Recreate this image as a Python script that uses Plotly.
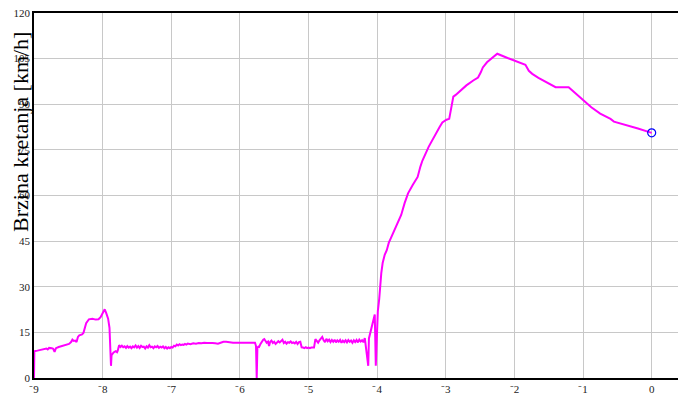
import plotly.graph_objects as go

# --- data -------------------------------------------------------------------
time_s = [
    -9.0, -8.995, -8.95, -8.9, -8.85, -8.82, -8.8, -8.78, -8.74, -8.72, -8.7, -8.68,
    -8.64, -8.6, -8.56, -8.52, -8.49, -8.46, -8.44, -8.42, -8.4, -8.38, -8.36, -8.34,
    -8.3, -8.28, -8.26, -8.24, -8.2, -8.15, -8.1, -8.06, -8.03, -8.0, -7.97, -7.95,
    -7.92, -7.9, -7.885, -7.878, -7.87, -7.84, -7.81, -7.79, -7.78,
    -7.76, -7.74, -7.72, -7.70, -7.68, -7.66, -7.64, -7.62, -7.60, -7.58, -7.56,
    -7.54, -7.52, -7.50, -7.48, -7.46, -7.44, -7.42, -7.40, -7.38, -7.36, -7.34,
    -7.32, -7.30, -7.28, -7.26, -7.24, -7.22, -7.20, -7.18, -7.16, -7.14, -7.12,
    -7.10, -7.08, -7.06, -7.04, -7.02, -7.00, -6.98, -6.96, -6.94, -6.92, -6.90,
    -6.88, -6.86, -6.84, -6.82, -6.80, -6.78, -6.76, -6.72, -6.68, -6.64, -6.60,
    -6.56, -6.52, -6.48, -6.44, -6.40, -6.36, -6.32, -6.28, -6.24, -6.20, -6.16,
    -6.10, -5.78, -5.765, -5.755, -5.745, -5.73,
    -5.72, -5.70, -5.68, -5.66, -5.645, -5.63, -5.61, -5.59, -5.575, -5.56, -5.54,
    -5.52, -5.50, -5.48, -5.46, -5.44, -5.42, -5.40, -5.38, -5.36, -5.34, -5.32,
    -5.30, -5.28, -5.26, -5.24, -5.22, -5.20, -5.18, -5.16, -5.14, -5.12, -5.10,
    -5.08, -5.06, -5.04, -5.02, -5.00, -4.98, -4.96, -4.94, -4.92, -4.90, -4.88,
    -4.86, -4.84, -4.82, -4.80, -4.78, -4.76, -4.74, -4.72, -4.70, -4.68, -4.66,
    -4.64, -4.62, -4.60, -4.58, -4.56, -4.54, -4.52, -4.50, -4.48, -4.46, -4.44,
    -4.42, -4.40, -4.38, -4.36, -4.34, -4.32, -4.30, -4.28, -4.26, -4.24, -4.22,
    -4.20, -4.18, -4.13, -4.12, -4.10, -4.06, -4.035, -4.02, -4.005, -3.99,
    -3.97, -3.955, -3.94, -3.92, -3.89, -3.86, -3.83, -3.80, -3.72, -3.65, -3.60,
    -3.55, -3.48, -3.41, -3.37, -3.34, -3.25, -3.15, -3.09, -3.05, -2.99, -2.95,
    -2.93, -2.89, -2.86, -2.80, -2.70, -2.60, -2.53, -2.49, -2.46, -2.40, -2.33,
    -2.25, -2.10, -1.95, -1.84, -1.79, -1.74, -1.65, -1.55, -1.40, -1.21, -1.10,
    -1.00, -0.88, -0.75, -0.65, -0.60, -0.55, -0.40, -0.20, 0.0,
]

speed_kmh = [
    0.0, 8.8, 9.0, 9.3, 9.5, 9.7, 9.4, 9.9, 9.8, 9.6, 8.6, 9.8,
    10.2, 10.5, 10.8, 11.0, 11.2, 11.8, 12.6, 12.2, 12.3, 11.8, 13.5, 14.0,
    14.3, 14.8, 16.5, 18.0, 19.3, 19.5, 19.2, 19.3, 20.0, 21.5, 22.6, 21.5,
    19.5, 16.5, 10.0, 4.0, 7.5, 8.4, 8.8, 8.5, 9.0,
    10.8, 10.2, 10.6, 10.1, 10.4, 9.9, 10.5, 10.0, 10.3, 9.8, 10.4,
    10.1, 10.7, 10.0, 10.5, 9.9, 10.6, 10.2, 10.3, 9.7, 10.4, 10.0,
    10.8, 10.1, 10.3, 9.8, 10.4, 10.1, 10.5, 9.9, 10.3, 10.0, 10.4,
    9.8, 10.2, 9.7, 10.1, 9.8, 10.2, 10.0, 10.6, 10.4, 11.0, 10.7,
    11.1, 10.8, 11.0, 10.9, 11.2, 11.0, 11.3, 11.1, 11.4, 11.3, 11.5,
    11.4, 11.6, 11.5, 11.6, 11.5, 11.4, 11.3, 11.6, 11.9, 11.9, 11.8,
    11.6, 11.6, 10.5, 0.0, 10.0, 10.3,
    10.2, 11.2, 12.0, 12.6, 12.8, 12.2, 11.6, 12.0, 10.5, 11.8, 12.3,
    11.5, 11.9, 11.2, 11.8, 12.1, 11.7, 12.3, 12.6, 11.5, 11.9, 11.3,
    11.8, 11.6, 12.0, 11.5, 11.7, 11.4, 11.9, 11.2, 11.8, 11.9, 10.1,
    10.0, 9.8, 10.1, 9.8, 10.0, 9.8, 10.0, 9.9, 10.0, 12.8, 12.0,
    11.6, 12.4, 12.8, 13.5, 12.4, 11.8, 12.9, 12.1, 12.6, 11.8, 12.5,
    11.9, 12.6, 11.7, 12.4, 11.9, 12.5, 11.6, 12.3, 11.8, 12.4, 11.7,
    12.5, 11.9, 12.3, 11.6, 12.4, 11.8, 12.5, 11.7, 12.6, 12.0, 12.4,
    11.8, 13.1, 4.0, 13.0, 15.0, 18.0, 20.9, 4.0, 13.0, 22.0,
    26.0, 31.0, 34.5, 37.8, 40.5, 42.0, 44.5, 46.0, 50.0, 53.6, 57.5,
    60.7, 63.5, 66.1, 69.5, 71.5, 76.0, 80.3, 82.5, 84.0, 84.9, 85.2,
    88.0, 92.5, 93.0, 94.3, 96.2, 97.8, 98.8, 100.5, 102.1, 103.8, 105.2,
    106.6, 105.2, 103.9, 103.0, 101.0, 100.0, 98.7, 97.4, 95.6, 95.6, 93.3,
    91.2, 89.0, 86.9, 85.8, 85.2, 84.3, 83.4, 82.0, 80.6,
]

marker_t = [0.0]
marker_v = [80.6]

x_ticks = [-9, -8, -7, -6, -5, -4, -3, -2, -1, 0]
x_ticklabels = ["\u207b9", "\u207b8", "\u207b7", "\u207b6", "\u207b5",
                "\u207b4", "\u207b3", "\u207b2", "\u207b1", "0"]
y_ticks = [0, 15, 30, 45, 60, 75, 90, 105, 120]
y_title = "Brzina kretanja [km/h]"

# --- figure -----------------------------------------------------------------
fig = go.Figure()
fig.add_trace(go.Scatter(x=time_s, y=speed_kmh, mode="lines",
                         line=dict(color="#ff00ff", width=2), showlegend=False))
fig.add_trace(go.Scatter(x=marker_t, y=marker_v, mode="markers",
                         marker=dict(symbol="circle-open", size=8, color="#0000ff",
                                     line=dict(width=1.2, color="#0000ff")),
                         showlegend=False))

serif = "Liberation Serif, Times New Roman, serif"
fig.update_layout(
    width=686, height=395,
    margin=dict(l=26, r=8, t=5, b=25, autoexpand=False),
    paper_bgcolor="white", plot_bgcolor="white",
    font=dict(family=serif, size=12, color="#222222"),
    xaxis=dict(range=[-9, 0.5], tickvals=x_ticks, ticktext=x_ticklabels,
               automargin=False, ticklabeloverflow="allow",
               showgrid=True, gridcolor="#c8c8c8", gridwidth=1.3,
               zeroline=False, showline=True, linecolor="black", linewidth=1.5,
               mirror=True, ticks="", tickfont=dict(family=serif, size=11)),
    yaxis=dict(range=[0, 120], tickvals=y_ticks, automargin=False,
               ticklabeloverflow="allow",
               showgrid=True, gridcolor="#c8c8c8", gridwidth=1.3,
               zeroline=False, showline=True, linecolor="black", linewidth=1.5,
               ticks="", tickfont=dict(family=serif, size=11)),
    annotations=[dict(text=y_title, xref="paper", yref="paper",
                      x=-0.021, y=0.675, xanchor="center", yanchor="middle",
                      textangle=-90, showarrow=False,
                      font=dict(family=serif, size=22, color="black"))],
)

fig.write_html("out.html")
